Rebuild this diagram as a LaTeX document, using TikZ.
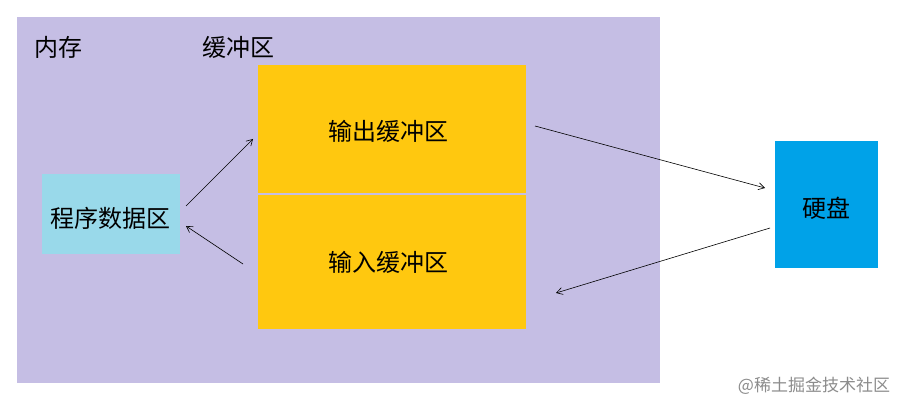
\documentclass[tikz,border=0pt]{standalone}
\usepackage{fontspec}
\newfontfamily\cjk{Noto Sans CJK SC}
\usetikzlibrary{arrows.meta}
\definecolor{mem}{HTML}{C5BEE4}
\definecolor{buf}{HTML}{FFC80F}
\definecolor{prog}{HTML}{99D9EA}
\definecolor{disk}{HTML}{00A2E8}
\begin{document}
\begin{tikzpicture}[x=1pt,y=-1pt,
  box/.style={inner sep=0pt,font=\cjk\fontsize{24}{26}\selectfont},
  lbl/.style={inner sep=0pt,font=\cjk\fontsize{24}{26}\selectfont},
  arr/.style={-{Straight Barb[length=6pt,width=7pt]},line width=0.6pt}]
\useasboundingbox (0,0) rectangle (901,403);
\fill[white] (0,0) rectangle (901,403);
\fill[mem] (17,17) rectangle (660,383);
\node[lbl] (l1) at (58,47) {内存};
\node[lbl] (l2) at (238,47) {缓冲区};
\fill[buf] (258,65) rectangle (526,193);
\node[box] (out) at (388,131) {输出缓冲区};
\fill[buf] (258,195) rectangle (526,329);
\node[box] (in) at (388,262) {输入缓冲区};
\fill[prog] (42,174) rectangle (180,254);
\node[box] (prog) at (110,218) {程序数据区};
\fill[disk] (775,141) rectangle (878,268);
\node[box] (disk) at (826,208) {硬盘};
\coordinate (a1) at (186,206); \coordinate (a2) at (253,139);
\coordinate (b1) at (243,264); \coordinate (b2) at (186,226);
\coordinate (c1) at (535,126); \coordinate (c2) at (765,188);
\coordinate (d1) at (770,228); \coordinate (d2) at (556,293);
\draw[arr] (a1) -- (a2);
\draw[arr] (b1) -- (b2);
\draw[arr] (c1) -- (c2);
\draw[arr] (d1) -- (d2);
\node[inner sep=0pt,text=black!45,font=\cjk\fontsize{17}{19}\selectfont] (wm) at (814,386) {@稀土掘金技术社区};
\end{tikzpicture}
\end{document}
